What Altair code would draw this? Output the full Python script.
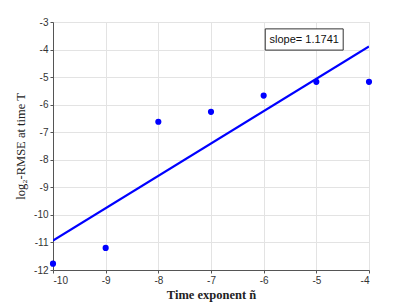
import altair as alt
import pandas as pd

exponents = [-10, -9, -8, -7, -6, -5, -4]
log_rmse = [-11.77, -11.2, -6.62, -6.26, -5.67, -5.17, -5.17]
fit_x = [-10, -4]
fit_y = [-10.93, -3.89]
slope_label = "slope= 1.1741"

pts = pd.DataFrame({"x": exponents, "y": log_rmse})
fit = pd.DataFrame({"x": fit_x, "y": fit_y})

xs = alt.Scale(domain=[-10, -4], nice=False, zero=False)
ys = alt.Scale(domain=[-12, -3], nice=False, zero=False)

lab = "datum.value < 0 ? '-' + abs(datum.value) : '' + datum.value"

common = dict(titleFont="Liberation Serif", titleColor="#222",
              labelFont="Liberation Sans", labelFontSize=10, labelColor="#333",
              labelOverlap=False, labelExpr=lab,
              gridColor="#e3e3e3", domainColor="#555", tickColor="#555", tickSize=3,
              labelPadding=2)
xax = alt.Axis(title="Time exponent ñ", values=list(range(-10, -3)), titlePadding=3,
               titleFontSize=12.5, titleFontWeight="bold", **common)
yax = alt.Axis(title="log₂-RMSE at time T", values=list(range(-12, -2)), titlePadding=6,
               titleFontSize=12.5, titleFontWeight="normal", **common)

X = lambda: alt.X("x:Q", scale=xs, axis=xax)
Y = lambda: alt.Y("y:Q", scale=ys, axis=yax)

line = alt.Chart(fit).mark_line(color="#0000ff", strokeWidth=2.2, clip=True).encode(
    x=X(), y=Y(),
)
points = alt.Chart(pts).mark_circle(color="#0000ff", size=38, opacity=1).encode(
    x=X(), y=Y(),
)
box_df = pd.DataFrame({"x": [-5.97], "x2": [-4.49], "y": [-3.25], "y2": [-4.02]})
box = alt.Chart(box_df).mark_rect(fill="white", stroke="#333", strokeWidth=1).encode(
    x=X(), x2="x2:Q", y=Y(), y2="y2:Q",
)
txt_df = pd.DataFrame({"x": [-5.23], "y": [-3.64], "t": [slope_label]})
txt = alt.Chart(txt_df).mark_text(font="Liberation Sans", fontSize=11, color="#111",
                                  align="center", baseline="middle").encode(
    x=X(), y=Y(), text="t:N"
)

chart = alt.layer(line, points, box, txt).properties(
    width=316, height=248,
    autosize=alt.AutoSizeParams(type="none"),
    padding={"left": 45, "top": 14, "right": 26, "bottom": 34},
).configure_view(stroke=None).configure(background="white")

chart.save("out.html", embed_options={"renderer": "svg", "actions": False})
